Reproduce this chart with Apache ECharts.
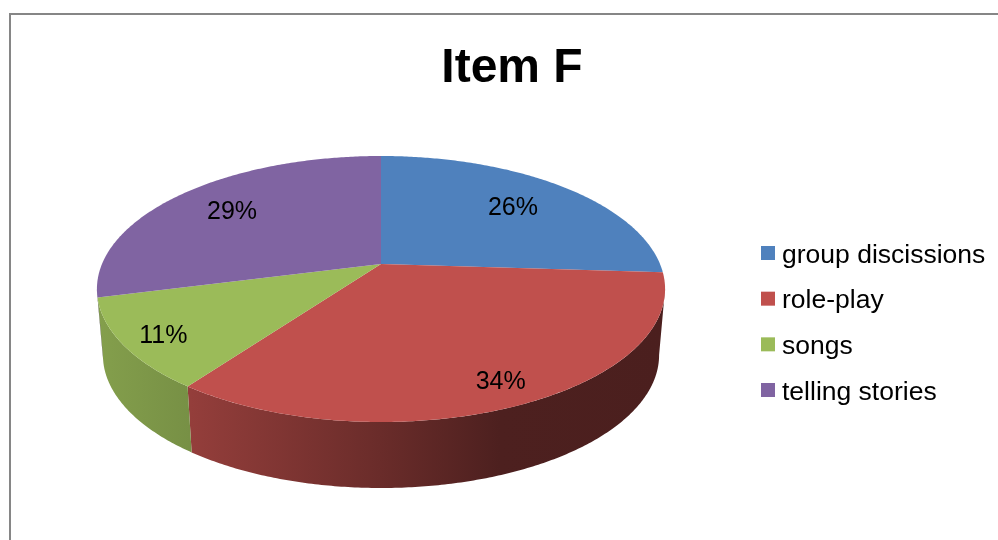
<!DOCTYPE html>
<html>
<head>
<meta charset="utf-8">
<style>html,body{margin:0;padding:0;background:#fff}#c{width:998px;height:540px}</style>
<script src="https://cdn.jsdelivr.net/npm/echarts@6/dist/echarts.min.js"></script>
</head>
<body>
<div id="c"></div>
<script>
const categories = ['group discissions', 'role-play', 'songs', 'telling stories'];
const values = [26, 34, 11, 29];
const colors = ['#4F81BD', '#C0504D', '#9BBB59', '#8064A2'];
const titleText = 'Item F';

const labelRadii = [0.708, 0.86, 0.858, 0.733];
const labelShiftY = [1, 1, 4, 1];
const total = values.reduce((a, b) => a + b, 0);
const CX = 381, CY = 264, A = 279, B = 128.3, P = 0.188, DEPTH = 66, WALL_SCALE = 0.979;
const frontL = Math.PI * 2 - Math.acos(-P), frontR = Math.acos(-P);

function facePoint(t, r) {
  const d = 1 + P * r * Math.cos(t);
  return [CX + r * A * Math.sin(t) / d, CY - r * B * Math.cos(t) / d];
}
function lowPoint(t) {
  const p = facePoint(t, 1);
  return [CX + (p[0] - CX) * WALL_SCALE, p[1] + DEPTH];
}
function shade(hex, f) {
  const n = parseInt(hex.slice(1), 16);
  return 'rgb(' + [(n >> 16) & 255, (n >> 8) & 255, n & 255].map(c => Math.round(c * f)).join(',') + ')';
}
function wallFill(hex) {
  const x0 = 97, x1 = 665;
  const stops = [[97, .85], [190, .77], [380, .55], [500, .40], [665, .39]];
  return new echarts.graphic.LinearGradient(x0, 0, x1, 0,
    stops.map(s => ({offset: (s[0] - x0) / (x1 - x0), color: shade(hex, s[1])})), true);
}
function arc(a, b) {
  const n = Math.max(2, Math.ceil(Math.abs(b - a) / 0.01)), out = [];
  for (let i = 0; i <= n; i++) out.push(a + (b - a) * i / n);
  return out;
}
function slice(idx) {
  return function (params, api) {
    const v = api.value(0);
    let before = 0;
    for (let i = 0; i < idx; i++) before += values[i];
    const a0 = before / total * Math.PI * 2, a1 = (before + v) / total * Math.PI * 2;
    const children = [];
    const w0 = Math.max(a0, frontR), w1 = Math.min(a1, frontL);
    if (w1 > w0) {
      const ts = arc(w0, w1);
      const pts = ts.map(t => facePoint(t, 1)).concat(ts.slice().reverse().map(lowPoint));
      children.push({type: 'polygon', shape: {points: pts}, style: {fill: wallFill(colors[idx])}, z2: 1});
    }
    const face = [[CX, CY]].concat(arc(a0, a1).map(t => facePoint(t, 1)));
    children.push({type: 'polygon', shape: {points: face}, style: {fill: colors[idx]}, z2: 2});
    const mid = (a0 + a1) / 2;
    const lp = facePoint(mid, labelRadii[idx]);
    children.push({type: 'text', z2: 5, style: {
      x: lp[0], y: lp[1] + labelShiftY[idx], text: Math.round(v / total * 100) + '%',
      fill: '#000', font: '25px "Liberation Sans"', align: 'center', verticalAlign: 'middle'
    }});
    return {type: 'group', children: children};
  };
}

const chart = echarts.init(document.getElementById('c'), null, {renderer: 'canvas'});
chart.setOption({
  animation: false,
  backgroundColor: '#fff',
  title: {
    text: titleText, left: 507, top: 40, textAlign: 'center',
    textStyle: {fontFamily: 'Liberation Sans', fontSize: 48, fontWeight: 'bold', color: '#000'}
  },
  legend: {
    orient: 'vertical', left: 756, top: 232, icon: 'rect', itemWidth: 14, itemHeight: 14, itemGap: 13.67,
    data: categories,
    selectedMode: false,
    formatter: '{t|{name}}',
    textStyle: {
      fontFamily: 'Liberation Sans', fontSize: 26.5, color: '#000',
      rich: {t: {fontFamily: 'Liberation Sans', fontSize: 26.5, color: '#000', lineHeight: 28, padding: [5, 0, 0, 2]}}
    }
  },
  graphic: [{
    type: 'polyline', silent: true,
    shape: {points: [[10, 540], [10, 14], [998, 14]]},
    style: {stroke: '#868686', lineWidth: 2, fill: null}
  }],
  series: categories.map((name, i) => ({
    type: 'custom', name: name, coordinateSystem: 'none',
    itemStyle: {color: colors[i]},
    data: [[values[i]]],
    renderItem: slice(i)
  }))
});
</script>
</body>
</html>
